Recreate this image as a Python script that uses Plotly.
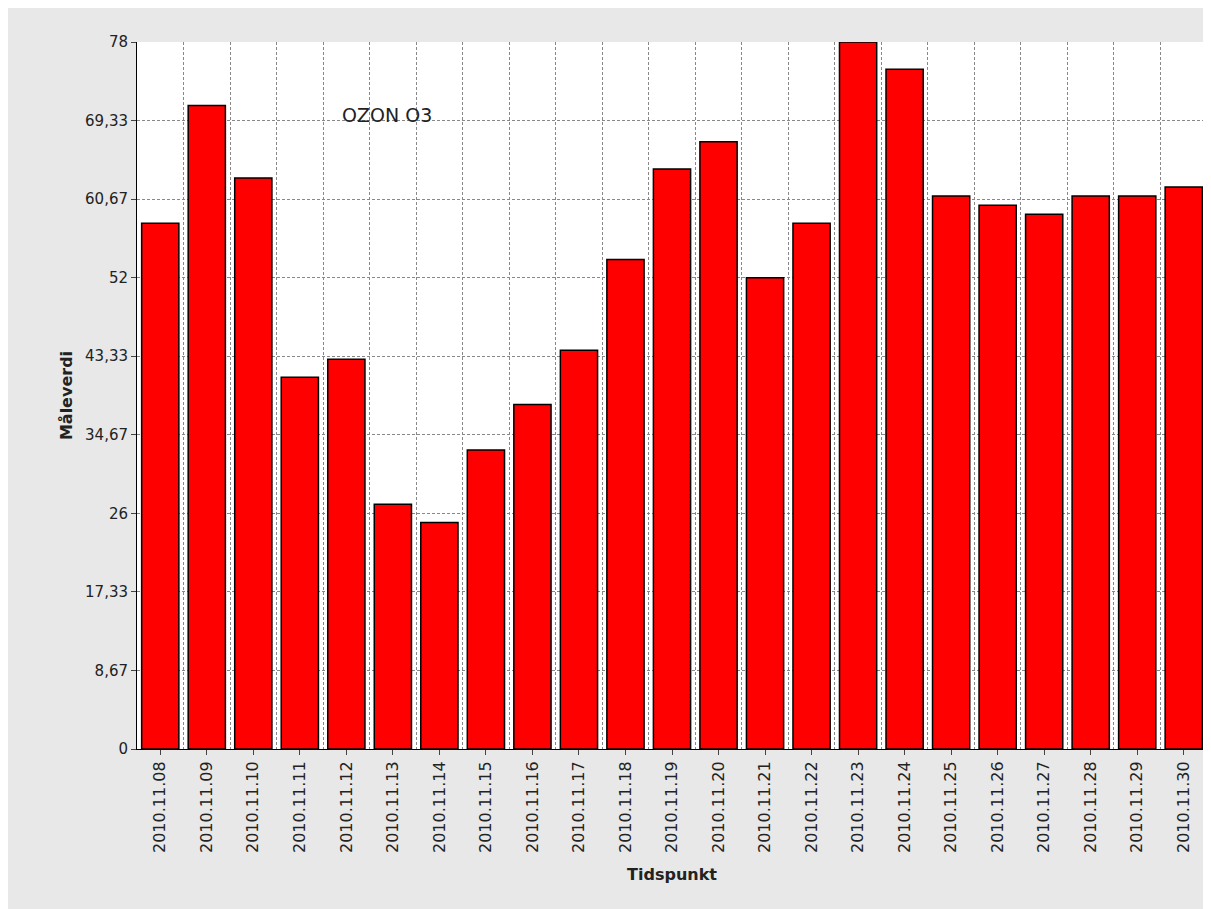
import plotly.graph_objects as go

dates = ["2010.11.%02d" % d for d in range(8, 31)]
values = [58, 71, 63, 41, 43, 27, 25, 33, 38, 44, 54, 64, 67, 52, 58, 78, 75, 61, 60, 59, 61, 61, 62]
ytick_vals = [78 * i / 9 for i in range(10)]
ytick_text = ["0", "8,67", "17,33", "26", "34,67", "43,33", "52", "60,67", "69,33", "78"]

fig = go.Figure()
fig.add_trace(go.Bar(x=list(range(len(dates))), y=values, width=0.8,
                     marker=dict(color="#ff0000", line=dict(color="black", width=1.5))))

font = dict(family="DejaVu Sans", size=15, color="#222")
grid = dict(gridcolor="#888", griddash="3px,2px", gridwidth=1)
fig.update_layout(
    width=1211, height=909, showlegend=False,
    paper_bgcolor="#e8e8e8", plot_bgcolor="white",
    margin=dict(l=129, r=12, t=34, b=168),
    font=font,
    xaxis=dict(range=[-0.5, len(dates) - 0.5], tickvals=list(range(len(dates))), ticktext=dates,
               tickangle=-90, ticks="outside", ticklen=5, showgrid=False, zeroline=False,
               showline=True, linecolor="black", tickfont=dict(size=16),
               minor=dict(tick0=0.5, dtick=1, showgrid=True, ticks="", **grid),
               title=dict(text="<b>Tidspunkt</b>", standoff=16, font=dict(size=16))),
    yaxis=dict(range=[0, 78], tickvals=ytick_vals, ticktext=ytick_text, ticks="outside", ticklen=5,
               showgrid=True, zeroline=False, showline=True, linecolor="black",
               title=dict(text="<b>Måleverdi</b>", standoff=8, font=dict(size=16)), **grid),
    annotations=[dict(text="OZON O3", xref="paper", yref="paper", x=0.19, y=0.915,
                      showarrow=False, font=dict(family="DejaVu Sans", size=19, color="#222"))],
)
fig.write_html("out.html")
